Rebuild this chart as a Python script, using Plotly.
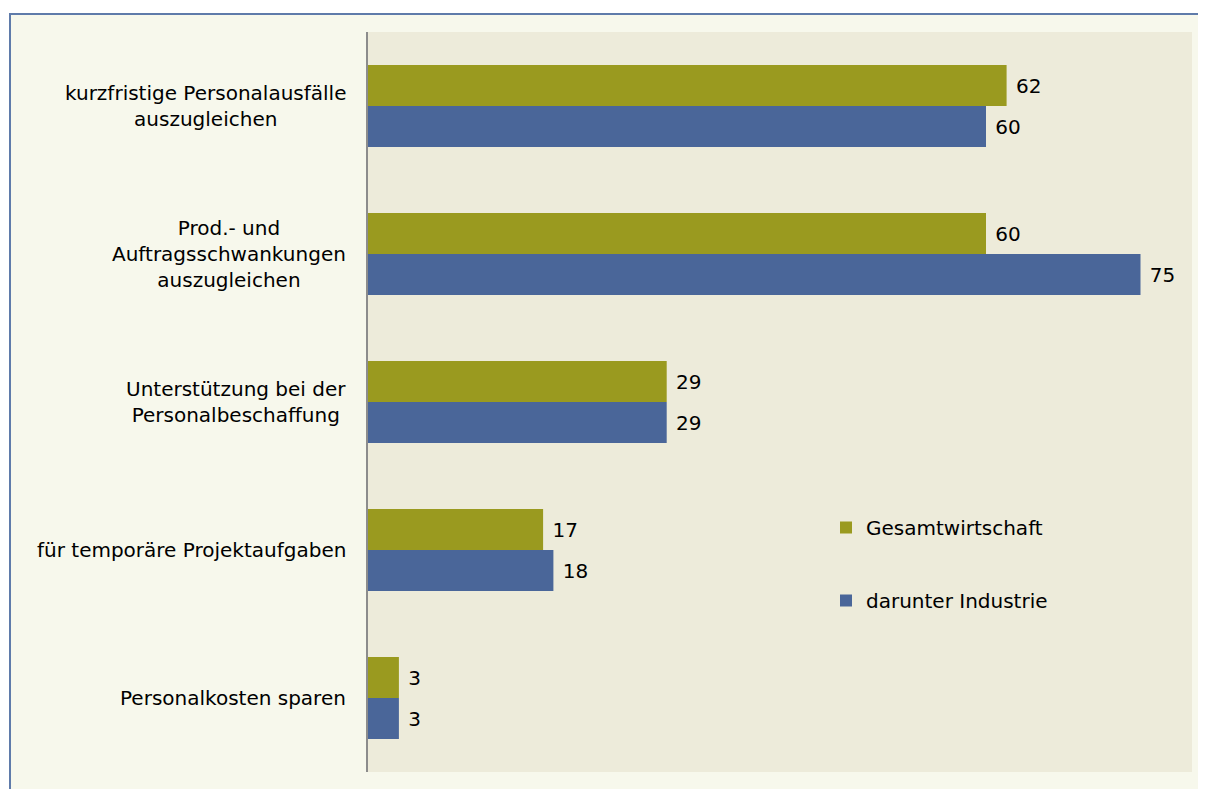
import plotly.graph_objects as go

categories = [
    "kurzfristige Personalausfälle<br>auszugleichen",
    "Prod.- und<br>Auftragsschwankungen<br>auszugleichen",
    "Unterstützung bei der<br>Personalbeschaffung",
    "für temporäre Projektaufgaben",
    "Personalkosten sparen",
]
gesamt = [62, 60, 29, 17, 3]
industrie = [60, 75, 29, 18, 3]
series_names = ["Gesamtwirtschaft", "darunter Industrie"]

GREEN = "#9A9A1F"
BLUE = "#4A6699"
FONT = "DejaVu Sans, Arial, sans-serif"
FS = 20

OFF = 8  # default body margin of the page
W, H = 1206 - OFF, 789 - OFF
ML, MR, MT, MB = 368 - OFF, 14, 32 - OFF, 17
PW, PH = W - ML - MR, H - MT - MB

def px_x(p):
    return (p - OFF - ML) / PW

def px_y(p):
    return 1 - (p - OFF - MT) / PH

fig = go.Figure()
for name, vals, col, grp in [(series_names[0], gesamt, GREEN, "g1"),
                             (series_names[1], industrie, BLUE, "g2")]:
    fig.add_trace(go.Bar(
        y=categories, x=vals, orientation="h", name=name,
        marker=dict(color=col, line=dict(width=0)),
        text=vals, texttemplate="&nbsp;%{x}", textposition="outside",
        textfont=dict(family=FONT, size=FS, color="#000000"),
        cliponaxis=False, legendgroup=grp,
    ))

# category labels (centered multi-line)
for c in categories:
    fig.add_annotation(x=0, y=c, xref="x", yref="y", text=c, showarrow=False,
                       xanchor="right", yanchor="middle", align="center",
                       xshift=-20, font=dict(family=FONT, size=FS, color="#000000"))

shapes = [
    dict(type="rect", xref="paper", yref="paper", layer="below",
         x0=px_x(10), x1=px_x(1216), y0=px_y(800), y1=px_y(14),
         fillcolor="#F7F8EC", line=dict(color="#5F7BAA", width=2)),
    dict(type="rect", xref="paper", yref="paper", layer="below",
         x0=0, x1=1, y0=0, y1=1, fillcolor="#EDEBDA", line=dict(width=0)),
]

fig.update_layout(
    width=W, height=H,
    margin=dict(l=ML, r=MR, t=MT, b=MB, pad=0),
    paper_bgcolor="#FFFFFF", plot_bgcolor="rgba(0,0,0,0)",
    barmode="group", bargap=0.446, bargroupgap=0,
    shapes=shapes,
    font=dict(family=FONT, size=FS, color="#000000"),
    legend=dict(x=px_x(826), y=px_y(508), xanchor="left", yanchor="top",
                bgcolor="rgba(0,0,0,0)", tracegroupgap=44,
                font=dict(family=FONT, size=FS, color="#000000"),
                itemwidth=30),
    showlegend=True,
)
fig.update_xaxes(range=[0, 80], visible=False, showgrid=False, zeroline=False)
fig.update_yaxes(autorange="reversed", showticklabels=False, ticks="",
                 showgrid=False, showline=True, linecolor="#8C8C8C", linewidth=1.5)

fig.write_html("out.html")
